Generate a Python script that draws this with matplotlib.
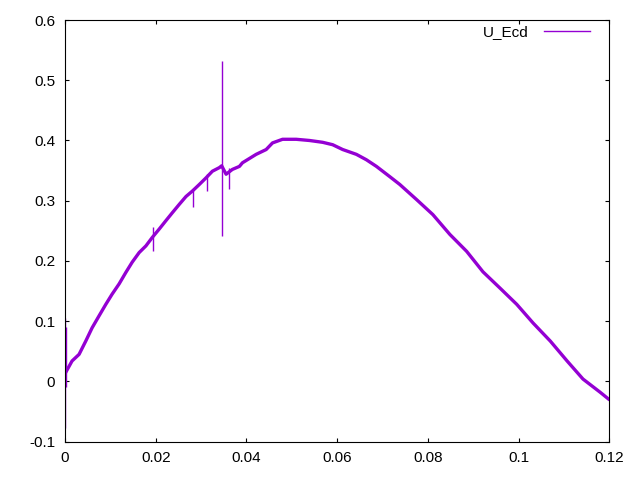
import matplotlib
matplotlib.use("Agg")
import matplotlib.pyplot as plt

# valeurs (courbe moyenne)
t = [0.00015, 0.00155, 0.0031, 0.00457, 0.00597, 0.00751, 0.00899, 0.01039,
     0.01193, 0.01341, 0.01481, 0.01635, 0.01783, 0.01923, 0.02077, 0.02225,
     0.02365, 0.02519, 0.02667, 0.02807, 0.02961, 0.03109, 0.03249, 0.03403,
     0.03454, 0.03551, 0.0369, 0.03845, 0.03912, 0.04214, 0.04435, 0.04575,
     0.04796, 0.05098, 0.05392, 0.0568, 0.05901, 0.06122, 0.06424, 0.06645,
     0.06866, 0.0716, 0.07381, 0.0775, 0.0811, 0.08486, 0.08855, 0.09215,
     0.0959, 0.0996, 0.1032, 0.107, 0.1107, 0.1142, 0.118, 0.1198]
u_ecd = [0.015, 0.034, 0.045, 0.067, 0.089, 0.109, 0.128, 0.145,
         0.162, 0.181, 0.198, 0.214, 0.225, 0.239, 0.253, 0.267,
         0.280, 0.294, 0.307, 0.316, 0.327, 0.338, 0.349, 0.355,
         0.358, 0.344, 0.352, 0.357, 0.363, 0.377, 0.385, 0.396,
         0.402, 0.402, 0.400, 0.397, 0.393, 0.385, 0.377, 0.368,
         0.357, 0.340, 0.327, 0.302, 0.277, 0.244, 0.216, 0.182,
         0.155, 0.128, 0.097, 0.067, 0.034, 0.004, -0.018, -0.029]

# pics (x, min, max)
pic_x = [0.00005, 0.0003, 0.0194, 0.0283, 0.0314, 0.03454, 0.0362]
pic_min = [-0.077, -0.01, 0.216, 0.29, 0.316, 0.241, 0.32]
pic_max = [0.106, 0.09, 0.257, 0.32, 0.345, 0.532, 0.355]

violet = '#9400D3'

plt.rcParams['font.family'] = ['Liberation Sans', 'DejaVu Sans']
plt.rcParams['font.size'] = 11

fig = plt.figure(figsize=(6.4, 4.8), dpi=100)
ax = fig.add_axes([0.1016, 0.0798, 0.8504, 0.8785])

ax.plot(t, u_ecd, color=violet, linewidth=2.4, label='U_Ecd')
ax.vlines(pic_x, pic_min, pic_max, color=violet, linewidth=1.0)

ax.set_xlim(0, 0.12)
ax.set_ylim(-0.1, 0.6)
ax.set_xticks([0, 0.02, 0.04, 0.06, 0.08, 0.1, 0.12])
ax.set_xticklabels(['0', '0.02', '0.04', '0.06', '0.08', '0.1', '0.12'])
ax.set_yticks([-0.1, 0, 0.1, 0.2, 0.3, 0.4, 0.5, 0.6])
ax.set_yticklabels(['-0.1', '0', '0.1', '0.2', '0.3', '0.4', '0.5', '0.6'])
ax.tick_params(direction='in', length=3, width=0.8, top=True, right=True,
               labelsize=11, pad=7)

# légende style gnuplot
h = [plt.Line2D([], [], color=violet, linewidth=1)]
ax.legend(h, ['U_Ecd'], loc='center right', bbox_to_anchor=(0.9646, 0.9716),
          frameon=False, markerfirst=False, handlelength=3.0, handletextpad=1.0,
          borderpad=0, borderaxespad=0, fontsize=11)

plt.savefig('out.png', dpi=100)
